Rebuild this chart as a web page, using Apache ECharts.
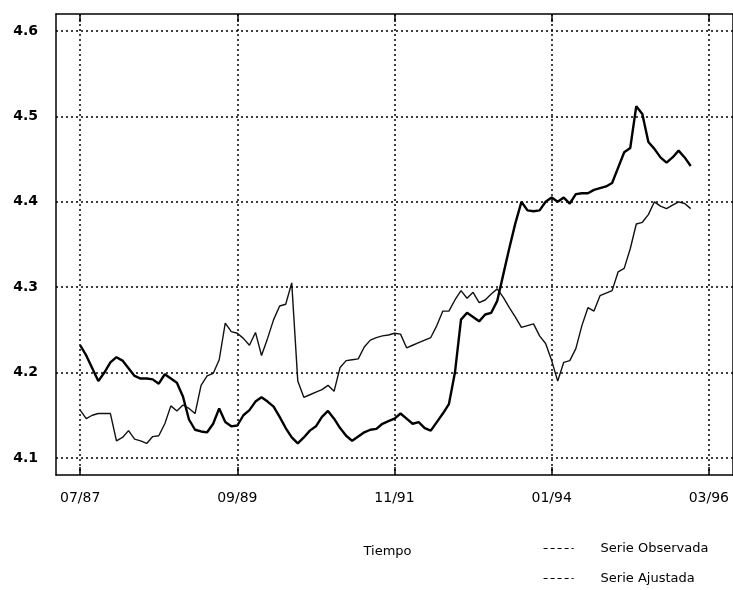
<!DOCTYPE html>
<html>
<head>
<meta charset="utf-8">
<script src="https://cdn.jsdelivr.net/npm/echarts@6/dist/echarts.min.js"></script>
<style>
  html, body { margin: 0; padding: 0; background: #fff; }
  #chart { width: 733px; height: 590px; }
</style>
</head>
<body>
<div id="chart"></div>
<script>
// etiquetas y niveles de los ejes
const etiquetasX = ["07/87", "09/89", "11/91", "01/94", "03/96"]
const nivelesY = [4.1, 4.2, 4.3, 4.4, 4.5, 4.6]

// series mensuales desde 07/87 hasta 12/95
const inicioSerie = "07/87"
const serieObservada = [
  4.232, 4.22, 4.205, 4.19, 4.2, 4.212, 4.218, 4.214, 4.205, 4.196,
  4.193, 4.193, 4.192, 4.187, 4.198, 4.193, 4.188, 4.172, 4.145, 4.133,
  4.131, 4.13, 4.14, 4.158, 4.142, 4.137, 4.138, 4.15, 4.156, 4.166,
  4.171, 4.166, 4.16, 4.148, 4.135, 4.124, 4.117, 4.124, 4.132, 4.137,
  4.148, 4.155, 4.146, 4.135, 4.126, 4.12, 4.125, 4.13, 4.133, 4.134,
  4.14, 4.143, 4.146, 4.152, 4.146, 4.14, 4.142, 4.135, 4.132, 4.142,
  4.152, 4.163, 4.2, 4.262, 4.27, 4.265, 4.26, 4.268, 4.27, 4.284,
  4.315, 4.346, 4.375, 4.4, 4.39, 4.389, 4.39, 4.4, 4.405, 4.4,
  4.405, 4.398, 4.409, 4.41, 4.41, 4.414, 4.416, 4.418, 4.422, 4.44,
  4.458, 4.463, 4.512, 4.503, 4.47, 4.462, 4.452, 4.446, 4.452, 4.46,
  4.452, 4.442
]
const serieAjustada = [
  4.156, 4.146, 4.15, 4.152, 4.152, 4.152, 4.12, 4.124, 4.132, 4.122,
  4.12, 4.117, 4.125, 4.126, 4.14, 4.161, 4.155, 4.162, 4.158, 4.152,
  4.185, 4.196, 4.199, 4.215, 4.258, 4.248, 4.246, 4.24, 4.232, 4.247,
  4.22, 4.24, 4.262, 4.278, 4.28, 4.305, 4.19, 4.171, 4.174, 4.177,
  4.18, 4.185, 4.178, 4.206, 4.214, 4.215, 4.216, 4.23, 4.238, 4.241,
  4.243, 4.244, 4.246, 4.245, 4.229, 4.232, 4.235, 4.238, 4.241, 4.255,
  4.272, 4.272, 4.285, 4.296, 4.287, 4.294, 4.282, 4.285, 4.292, 4.298,
  4.288, 4.276, 4.265, 4.253, 4.255, 4.257, 4.243, 4.234, 4.214, 4.19,
  4.212, 4.214, 4.228, 4.255, 4.276, 4.272, 4.29, 4.293, 4.296, 4.318,
  4.322, 4.345, 4.374, 4.376, 4.385, 4.4, 4.395, 4.392, 4.396, 4.4,
  4.398, 4.392
]

// meses del eje: 03/87 a 07/96
const meses = []
let mes = 3, anio = 87
for (let i = 0; i < 113; i++) {
  meses.push(String(mes).padStart(2, "0") + "/" + String(anio).padStart(2, "0"))
  mes++
  if (mes > 12) { mes = 1; anio++ }
}

const desde = meses.indexOf(inicioSerie)
const aPares = (serie) => serie.map((v, i) => [meses[desde + i], v])
const esEtiqueta = (idx, val) => etiquetasX.includes(meses[idx])

const fuente = "DejaVu Sans"
const chart = echarts.init(document.getElementById("chart"))

chart.setOption({
  animation: false,
  backgroundColor: "#fff",
  grid: { left: 56, right: 0, top: 14, bottom: 115 },
  legend: {
    orient: "vertical",
    left: 538,
    top: 537,
    itemWidth: 30,
    itemHeight: 12,
    itemGap: 17,
    itemStyle: { opacity: 0 },
    lineStyle: { type: [4, 3], width: 1.2, color: "#000" },
    textStyle: { fontFamily: fuente, fontSize: 13, color: "#000", padding: [0, 0, 0, 22] },
    data: ["Serie Observada", "Serie Ajustada"],
  },
  xAxis: [
    {
      type: "category",
      data: meses,
      boundaryGap: false,
      name: "Tiempo",
      nameLocation: "middle",
      nameGap: 70,
      nameTextStyle: { fontFamily: fuente, fontSize: 13, color: "#000", padding: [0, 14, 0, 0] },
      axisLine: { lineStyle: { color: "#000", width: 1.5 } },
      axisTick: { inside: true, length: 8, interval: esEtiqueta, lineStyle: { color: "#000", width: 1.5 } },
      axisLabel: { interval: esEtiqueta, margin: 16, fontFamily: fuente, fontSize: 14, color: "#000" },
      splitLine: { show: true, interval: esEtiqueta, lineStyle: { color: "#000", type: [2, 3], width: 1.5 } },
    },
    {
      type: "category",
      data: meses,
      boundaryGap: false,
      position: "top",
      axisLine: { lineStyle: { color: "#000", width: 1.5 } },
      axisTick: { inside: true, length: 8, interval: esEtiqueta, lineStyle: { color: "#000", width: 1.5 } },
      axisLabel: { show: false },
      splitLine: { show: false },
    },
  ],
  yAxis: [
    {
      type: "value",
      min: 4.08,
      max: 4.62,
      interval: 0.02,
      axisLine: { show: true, lineStyle: { color: "#000", width: 1.5 } },
      axisTick: { inside: true, length: 6, lineStyle: { color: "#000", width: 1.5 } },
      axisLabel: {
        margin: 18,
        fontFamily: fuente,
        fontSize: 14,
        fontWeight: "bold",
        color: "#000",
        formatter: (v) => (nivelesY.some((n) => Math.abs(n - v) < 1e-6) ? v.toFixed(1) : ""),
      },
      splitLine: { show: false },
    },
    {
      type: "value",
      min: 4.08,
      max: 4.62,
      interval: 0.02,
      position: "right",
      axisLine: { show: true, lineStyle: { color: "#000", width: 1.5 } },
      axisTick: { inside: true, length: 6, lineStyle: { color: "#000", width: 1.2 } },
      axisLabel: { show: false },
      splitLine: { show: false },
    },
  ],
  series: [
    {
      name: "Serie Observada",
      type: "line",
      data: aPares(serieObservada),
      symbol: "none",
      lineStyle: { color: "#000", width: 2.4 },
      itemStyle: { color: "#000" },
      // lineas de rejilla horizontales
      markLine: {
        silent: true,
        symbol: ["none", "none"],
        label: { show: false },
        lineStyle: { color: "#000", type: [2, 3], width: 1.5 },
        data: nivelesY.map((n) => ({ yAxis: n })),
      },
      z: 3,
    },
    {
      name: "Serie Ajustada",
      type: "line",
      data: aPares(serieAjustada),
      symbol: "none",
      lineStyle: { color: "#111", width: 1.4 },
      itemStyle: { color: "#111" },
      z: 2,
    },
  ],
})
</script>
</body>
</html>
